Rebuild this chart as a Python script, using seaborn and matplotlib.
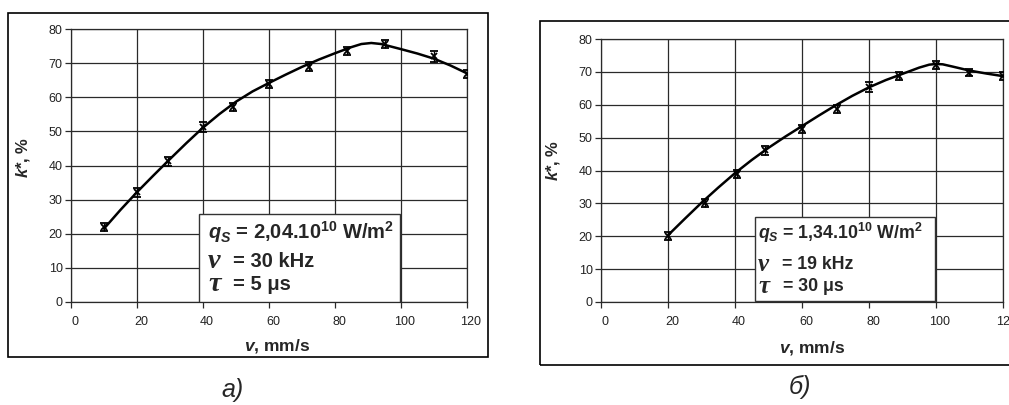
import numpy as np
import pandas as pd
import matplotlib
matplotlib.use("Agg")
import matplotlib.pyplot as plt
from matplotlib.patches import Rectangle
from matplotlib.transforms import ScaledTranslation
import seaborn as sns

# measured points, panel a)
v_a = [10, 20, 29.5, 40, 49, 60, 72, 83.5, 95, 110, 120]
k_a = [21.9, 32.1, 41.2, 51.3, 57.2, 63.9, 69.0, 73.5, 75.6, 72.0, 66.9]
err_a = [1.2, 1.2, 1.2, 1.5, 1.2, 1.3, 1.2, 1.2, 1.3, 1.6, 1.2]

# smooth line read off panel a)
curve_va = [10, 15, 20, 25, 30, 35, 40, 45, 50, 55, 60, 65, 70, 75, 80, 85, 88, 91, 94, 100, 105, 110, 115, 120]
curve_ka = [21.5, 27.0, 32.2, 37.1, 41.9, 46.6, 51.1, 55.1, 58.7, 61.7, 64.2, 66.6, 68.9, 71.0, 72.9, 74.7, 75.6, 75.9, 75.6, 74.1, 72.8, 71.3, 69.3, 67.0]

# measured points, panel б)
v_b = [20, 31, 40.5, 49, 60, 70.5, 80, 89, 100, 110, 120]
k_b = [20.2, 30.1, 39.0, 46.1, 52.7, 58.8, 65.3, 68.7, 72.1, 69.8, 68.7]
err_b = [1.2, 1.2, 1.2, 1.3, 1.2, 1.2, 1.5, 1.2, 1.3, 1.2, 1.2]

# smooth line read off panel б)
curve_vb = [20, 25, 30, 35, 40, 45, 50, 55, 60, 65, 70, 75, 80, 85, 90, 95, 98, 100, 102, 105, 110, 115, 120]
curve_kb = [20.3, 25.3, 30.2, 34.8, 39.2, 43.2, 46.9, 50.3, 53.5, 56.7, 59.8, 62.7, 65.3, 67.5, 69.4, 71.3, 72.2, 72.4, 72.3, 71.6, 70.4, 69.5, 68.7]

x_ticks = [0, 20, 40, 60, 80, 100, 120]
y_ticks = [0, 10, 20, 30, 40, 50, 60, 70, 80]

sns.set_theme(style="whitegrid")
plt.rcParams["font.family"] = ["Liberation Sans", "DejaVu Sans"]
plt.rcParams["mathtext.fontset"] = "custom"
plt.rcParams["mathtext.rm"] = "Liberation Sans:bold"
plt.rcParams["mathtext.it"] = "Liberation Sans:italic:bold"
plt.rcParams["mathtext.bf"] = "Liberation Sans:bold"

fig = plt.figure(figsize=(10.09, 4.05), dpi=100)
W, H = 1009, 405


def px_axes(x0, y0, x1, y1):
    return fig.add_axes([x0 / W, 1 - y1 / H, (x1 - x0) / W, (y1 - y0) / H])


# panel frames
fig.add_artist(Rectangle((8 / W, 1 - 357 / H), 480 / W, 344 / H, transform=fig.transFigure,
                         fill=False, ec="black", lw=1.2))
fig.add_artist(Rectangle((540 / W, 1 - 365 / H), 480 / W, 344 / H, transform=fig.transFigure,
                         fill=False, ec="black", lw=1.2))

ax_a = px_axes(71, 29, 467, 302)
ax_b = px_axes(601, 39, 1003, 302)


def draw_panel(ax, cx, cy, vx, ky, err, box, lines, xl, yl, fs):
    ax.set_facecolor("white")
    sns.lineplot(x=cx, y=cy, sort=False, color="black", lw=1.8, ax=ax, zorder=4)
    ax.errorbar(vx, ky, yerr=err, fmt="x", color="black", ms=4, mew=1.3,
                elinewidth=1, capsize=3, capthick=1, zorder=5)
    ax.set_xlim(0, 120)
    ax.set_ylim(0, 80)
    ax.set_xticks(x_ticks)
    ax.set_yticks(y_ticks)
    ax.grid(True, color="#2a2a2a", lw=0.9)
    for s in ax.spines.values():
        s.set_visible(True)
        s.set_color("#2a2a2a")
        s.set_linewidth(0.9)
    ax.tick_params(axis="both", which="both", length=4, width=0.9, color="#2a2a2a",
                   labelsize=9, labelcolor="#222222", pad=2, direction="out",
                   left=True, bottom=True)
    ax.tick_params(axis="x", pad=6)
    for lab in ax.get_xticklabels():
        lab.set_transform(lab.get_transform() + ScaledTranslation(4 / 100, 0, fig.dpi_scale_trans))

    ax.set_xlabel(r"$v$, mm/s", fontsize=12.5, fontweight="bold")
    ax.set_ylabel(r"$k$*, %", fontsize=12, fontweight="bold")
    ax.xaxis.set_label_coords(*xl)
    ax.yaxis.set_label_coords(*yl)

    bx0, by0, bx1, by1 = box
    ax.add_patch(Rectangle((bx0, by0), bx1 - bx0, by1 - by0, fc="white", ec="#333333",
                           lw=1.0, zorder=3))
    (t1x, t1y, t1), (t2x, t2sx, t2y, sym2, t2), (t3x, t3sx, t3y, sym3, t3) = lines
    ax.text(t1x, t1y, t1, fontsize=fs, fontweight="bold", va="center", zorder=6)
    ax.text(t2x, t2y, sym2, fontsize=fs * 1.4, fontstyle="italic", fontweight="bold",
            family="Liberation Serif", va="center", zorder=6)
    ax.text(t2sx, t2y, t2, fontsize=fs, fontweight="bold", va="center", zorder=6)
    ax.text(t3x, t3y, sym3, fontsize=fs * 1.4, fontstyle="italic", fontweight="bold",
            family="Liberation Serif", va="center", zorder=6)
    ax.text(t3sx, t3y, t3, fontsize=fs, fontweight="bold", va="center", zorder=6)


draw_panel(ax_a, curve_va, curve_ka, v_a, k_a, err_a,
           (38.9, 0, 99.7, 25.8),
           [(41.5, 20.4, r"$q_S$ = 2,04.10$^{10}$ W/m$^2$"),
            (41.5, 49.0, 11.9, "ν", "= 30 kHz"),
            (41.5, 49.2, 5.0, "τ", "= 5 μs")],
           (0.52, -0.13), (-0.098, 0.53), 14.5)

draw_panel(ax_b, curve_vb, curve_kb, v_b, k_b, err_b,
           (45.9, 0.3, 99.7, 26.0),
           [(46.9, 21.0, r"$q_S$ = 1,34.10$^{10}$ W/m$^2$"),
            (46.9, 54.0, 11.3, "ν", "= 19 kHz"),
            (46.9, 54.3, 4.6, "τ", "= 30 μs")],
           (0.525, -0.14), (-0.097, 0.54), 12.8)

fig.text(233 / W, 1 - 390 / H, "а)", fontsize=18, fontstyle="italic", ha="center", va="center")
fig.text(800 / W, 1 - 387 / H, "б)", fontsize=18, fontstyle="italic", ha="center", va="center")

fig.savefig("out.png", dpi=100)
